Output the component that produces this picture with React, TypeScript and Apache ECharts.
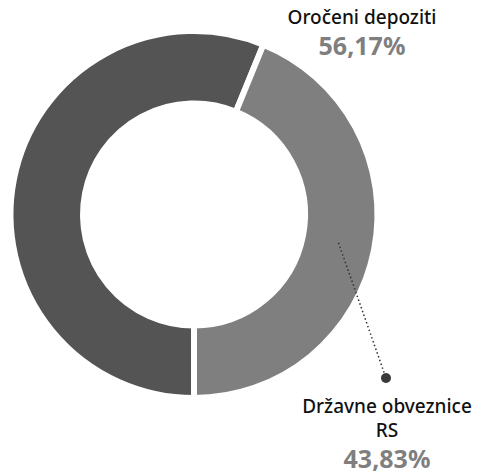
import React, { useEffect, useRef } from "react";
import * as echarts from "echarts";

const categories = ["Oročeni depoziti", "Državne obveznice RS"];
const shares = [56.17, 43.83];
const sliceColors = ["#545454", "#7f7f7f"];

const FONT = "'Noto Sans', sans-serif";
const CX = 194;
const CY = 214.5;
const R_IN = 114;
const R_OUT = 180.5;
const GAP = 6;
const labelPos = [
  { x: 362, y: 5 },
  { x: 387, y: 394 },
];
const leaderEnd = { x: 386, y: 378 };

function fmt(v: number) {
  return v.toFixed(2).replace(".", ",");
}
function wrap(s: string) {
  if (s.length <= 17) return s;
  const i = s.lastIndexOf(" ");
  return s.slice(0, i) + "\n" + s.slice(i + 1);
}

export default function App() {
  const ref = useRef<HTMLDivElement>(null);
  useEffect(() => {
    const chart = echarts.init(ref.current!, null, { renderer: "svg" });
    const total = shares.reduce((a, b) => a + b, 0);
    const start2 = 270 - (360 * shares[0]) / total;
    const mid2 = ((start2 - (180 * shares[1]) / total) * Math.PI) / 180;
    const rMid = (R_IN + R_OUT) / 2;
    const sx = CX + rMid * Math.cos(mid2);
    const sy = CY - rMid * Math.sin(mid2);

    chart.setOption({
      animation: false,
      series: [
        {
          type: "pie",
          center: [CX, CY],
          radius: [R_IN - GAP / 2, R_OUT + GAP / 2],
          startAngle: 270,
          clockwise: true,
          avoidLabelOverlap: false,
          itemStyle: { borderColor: "#ffffff", borderWidth: GAP },
          emphasis: { disabled: true },
          labelLine: { show: false },
          label: {
            show: true,
            position: "outside",
            align: "center",
            formatter: (p: any) => `{n|${wrap(p.name)}}\n{v|${fmt(p.value)}%}`,
            rich: {
              n: { fontFamily: FONT, fontSize: 19, fontWeight: 500, color: "#111111", lineHeight: 24, align: "center" },
              v: { fontFamily: FONT, fontSize: 25, fontWeight: "bold", color: "#7f7f7f", lineHeight: 31, align: "center" },
            },
          },
          labelLayout: (params: any) => ({
            x: labelPos[params.dataIndex].x,
            y: labelPos[params.dataIndex].y,
            align: "center",
            verticalAlign: "top",
          }),
          data: categories.map((c, i) => ({
            name: c,
            value: shares[i],
            itemStyle: { color: sliceColors[i] },
          })),
        },
      ],
      graphic: [
        {
          type: "line",
          shape: { x1: sx, y1: sy, x2: leaderEnd.x, y2: leaderEnd.y },
          style: { stroke: "#333333", lineWidth: 1.5, lineDash: [1.5, 2.5] },
          z: 10,
        },
        {
          type: "circle",
          shape: { cx: leaderEnd.x, cy: leaderEnd.y, r: 5 },
          style: { fill: "#3a3a3a" },
          z: 10,
        },
      ],
    });
    return () => chart.dispose();
  }, []);
  return (
    <div
      ref={ref}
      style={{ position: "fixed", left: 0, top: 0, width: 490, height: 473, background: "#fff" }}
    />
  );
}
